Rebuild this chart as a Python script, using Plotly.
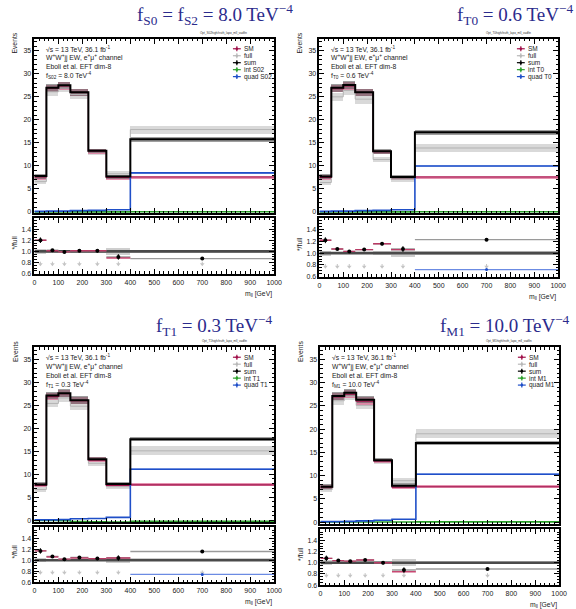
import plotly.graph_objects as go

W, H = 576, 609

# ---------------- data ----------------
bin_edges = [0, 50, 100, 150, 225, 300, 400, 1000]

# Panel 1: f_S0 = f_S2
sm_S02 = [7.6, 26.9, 27.4, 26.0, 13.2, 7.5, 7.6]
full_S02 = [6.6, 26.1, 26.9, 25.5, 13.1, 8.3, 17.9]
sum_S02 = [7.8, 27.0, 27.5, 26.0, 13.3, 7.7, 15.8]
int_S02 = [0.02, 0.03, 0.03, 0.03, 0.03, 0.03, 0.05]
quad_S02 = [0.15, 0.2, 0.2, 0.3, 0.35, 0.5, 8.5]
rsum_S02 = [1.20, 1.02, 0.99, 1.01, 1.01, 0.90, 0.87]
rsm_S02 = [1.20, 1.01, 0.99, 1.01, 1.01, 0.88, 0.42]
rquad_S02 = [0.02, 0.01, 0.01, 0.01, 0.03, 0.06, 0.47]

# Panel 2: f_T0
sm_T0 = [7.5, 26.8, 27.4, 26.0, 13.1, 7.5, 7.6]
full_T0 = [6.4, 25.0, 26.4, 24.5, 11.4, 7.1, 13.9]
sum_T0 = [7.7, 27.0, 27.6, 26.0, 13.2, 7.6, 17.3]
int_T0 = [0.02, 0.03, 0.03, 0.03, 0.03, 0.03, 0.05]
quad_T0 = [0.15, 0.2, 0.2, 0.3, 0.35, 0.5, 10.0]
rsum_T0 = [1.22, 1.07, 1.03, 1.06, 1.16, 1.07, 1.23]
rsm_T0 = [1.22, 1.07, 1.03, 1.06, 1.16, 1.06, 0.55]
rquad_T0 = [0.02, 0.01, 0.01, 0.01, 0.03, 0.07, 0.72]

# Panel 3: f_T1
sm_T1 = [7.6, 26.9, 27.5, 26.0, 13.1, 7.6, 7.7]
full_T1 = [6.7, 25.4, 26.6, 24.8, 12.4, 7.3, 15.1]
sum_T1 = [7.8, 27.1, 27.6, 26.1, 13.3, 7.9, 17.6]
int_T1 = [-0.05, -0.05, -0.1, -0.25, -0.3, -0.35, -0.2]
quad_T1 = [0.1, 0.1, 0.15, 0.35, 0.4, 0.65, 11.1]
rsum_T1 = [1.17, 1.07, 1.02, 1.05, 1.03, 1.04, 1.16]
rsm_T1 = [1.17, 1.06, 1.02, 1.04, 1.03, 1.04, 0.51]
rquad_T1 = [0.02, 0.01, 0.01, 0.01, 0.03, 0.09, 0.74]

# Panel 4: f_M1
sm_M1 = [7.5, 26.9, 27.5, 26.0, 13.1, 7.5, 7.6]
full_M1 = [7.0, 26.1, 27.1, 25.1, 13.0, 8.9, 19.0]
sum_M1 = [7.6, 27.1, 27.8, 26.3, 13.3, 7.8, 17.0]
int_M1 = [0.02, 0.03, 0.03, 0.03, 0.03, 0.03, 0.05]
quad_M1 = [0.1, 0.1, 0.15, 0.25, 0.4, 0.6, 10.3]
rsum_M1 = [1.08, 1.04, 1.03, 1.05, 1.00, 0.87, 0.89]
rsm_M1 = [1.08, 1.04, 1.03, 1.05, 1.00, 0.84, 0.40]
rquad_M1 = [0.02, 0.01, 0.01, 0.01, 0.03, 0.07, 0.54]

# uncertainties (shared shapes of the bands)
sm_err = [0.5, 0.8, 0.8, 0.8, 0.5, 0.4, 0.35]
full_err = [0.5, 0.9, 0.9, 0.9, 0.6, 0.6, 0.9]
sum_err = [0.5, 0.8, 0.8, 0.8, 0.5, 0.45, 0.45]
quad_err = [0.05, 0.05, 0.05, 0.05, 0.05, 0.08, 0.15]
rfull_err = [0.04, 0.02, 0.02, 0.02, 0.03, 0.06, 0.03]
rsum_err = [0.05, 0.02, 0.02, 0.02, 0.03, 0.05, 0.02]
offscale_marker = [0.77, 0.77, 0.77, 0.77, 0.77, 0.77, 0.77]

titles = ["f<sub>S0</sub> = f<sub>S2</sub> = 8.0 TeV<sup>\u22124</sup>",
          "f<sub>T0</sub> = 0.6 TeV<sup>\u22124</sup>",
          "f<sub>T1</sub> = 0.3 TeV<sup>\u22124</sup>",
          "f<sub>M1</sub> = 10.0 TeV<sup>\u22124</sup>"]
coef_labels = ["f<sub>S02</sub> = 8.0 TeV<sup>-4</sup>",
               "f<sub>T0</sub> = 0.6 TeV<sup>-4</sup>",
               "f<sub>T1</sub> = 0.3 TeV<sup>-4</sup>",
               "f<sub>M1</sub> = 10.0 TeV<sup>-4</sup>"]
op_names = ["S02", "T0", "T1", "M1"]
hist_names = ["Opt_S02high/truth_lapo_mll_vadfin", "Opt_T0high/truth_lapo_mll_vadfin",
              "Opt_T1high/truth_lapo_mll_vadfin", "Opt_M1high/truth_lapo_mll_vadfin"]
info_lines = ["\u221as = 13 TeV, 36.1 fb<sup>-1</sup>",
              "W<sup>+</sup>W<sup>+</sup>jj EW, e<sup>+</sup>\u03bc<sup>+</sup> channel",
              "Eboli et al. EFT dim-8"]

panels = [
    (sm_S02, full_S02, sum_S02, int_S02, quad_S02, rsum_S02, rsm_S02, rquad_S02),
    (sm_T0, full_T0, sum_T0, int_T0, quad_T0, rsum_T0, rsm_T0, rquad_T0),
    (sm_T1, full_T1, sum_T1, int_T1, quad_T1, rsum_T1, rsm_T1, rquad_T1),
    (sm_M1, full_M1, sum_M1, int_M1, quad_M1, rsum_M1, rsm_M1, rquad_M1),
]

# ---------------- layout geometry (pixels) ----------------
geo = [
    dict(x0=33, x1=277, mt=39, mb=214, rt=219, rb=275, ylo=-0.2, tx=298, ty=15),
    dict(x0=323, x1=566, mt=39, mb=214, rt=219, rb=278, ylo=-0.2, tx=583, ty=15),
    dict(x0=33, x1=277, mt=349, mb=525, rt=530, rb=585, ylo=-0.45, tx=277, ty=327),
    dict(x0=324, x1=567, mt=349, mb=527, rt=532, rb=588, ylo=-0.5, tx=580, ty=327),
]

def px(x):
    return x / W

def py(y):
    return 1 - y / H

C_SM = "#a0104a"
C_SM_BAND = "rgba(222,110,150,0.75)"
C_FULL = "#b4b4b4"
C_FULL_BAND = "rgba(185,185,185,0.55)"
C_SUM = "#000000"
C_SUM_BAND = "rgba(95,95,95,0.6)"
C_INT = "#2ca02c"
C_QUAD = "#1f4fc8"
FONT = "Liberation Sans, Arial, sans-serif"

centers = [(a + b) / 2 for a, b in zip(bin_edges[:-1], bin_edges[1:])]
widths = [b - a for a, b in zip(bin_edges[:-1], bin_edges[1:])]
halfw = [w / 2 for w in widths]

def step(v):
    return list(v) + [v[-1]]

fig = go.Figure()
annotations = []
shapes = []
layout = {}

for i, (sm, full, sm_sum, intf, quad, rsum, rsm, rquad) in enumerate(panels):
    g = geo[i]
    nm, nr = 2 * i + 1, 2 * i + 2
    xm = "x" if nm == 1 else f"x{nm}"
    ym = "y" if nm == 1 else f"y{nm}"
    xr, yr = f"x{nr}", f"y{nr}"

    def band(vals, errs, color, xa, ya):
        fig.add_trace(go.Bar(x=centers, width=widths,
                             base=[v - e for v, e in zip(vals, errs)],
                             y=[2 * e for e in errs],
                             marker=dict(color=color, line=dict(width=0)),
                             xaxis=xa, yaxis=ya, showlegend=False, hoverinfo="skip"))

    def hist(vals, color, width, xa, ya):
        fig.add_trace(go.Scatter(x=bin_edges, y=step(vals), mode="lines",
                                 line=dict(color=color, width=width, shape="hv"),
                                 xaxis=xa, yaxis=ya, showlegend=False))

    # ---- main panel ----
    band(full, full_err, C_FULL_BAND, xm, ym)
    band(sm, sm_err, C_SM_BAND, xm, ym)
    band(sm_sum, sum_err, C_SUM_BAND, xm, ym)
    band(quad, quad_err, "rgba(60,110,230,0.35)", xm, ym)
    hist(full, C_FULL, 1, xm, ym)
    hist(sm, C_SM, 1.2, xm, ym)
    hist(intf, C_INT, 1.6, xm, ym)
    hist(quad, C_QUAD, 1.6, xm, ym)
    hist(sm_sum, C_SUM, 2, xm, ym)

    # ---- ratio panel ----
    fig.add_trace(go.Bar(x=centers, width=widths,
                         base=[1 - e for e in rfull_err], y=[2 * e for e in rfull_err],
                         marker=dict(color="rgba(190,190,190,0.75)", line=dict(width=0)),
                         xaxis=xr, yaxis=yr, showlegend=False))
    fig.add_trace(go.Scatter(x=[bin_edges[0], bin_edges[-1]], y=[1, 1], mode="lines",
                             line=dict(color="#4a4a4a", width=2.6),
                             xaxis=xr, yaxis=yr, showlegend=False))
    # off-scale markers
    fig.add_trace(go.Scatter(x=centers, y=offscale_marker, mode="markers",
                             marker=dict(symbol="triangle-down", size=4, color="#c4c4c4"),
                             error_y=dict(type="data", array=[0.045] * 7, arrayminus=[0] * 7,
                                          color="#c4c4c4", thickness=1, width=0),
                             xaxis=xr, yaxis=yr, showlegend=False, cliponaxis=True))
    # sum/full horizontal segments (gray)
    fig.add_trace(go.Scatter(x=centers, y=rsum, mode="markers",
                             marker=dict(size=1, color="#9a9a9a"),
                             error_x=dict(type="data", array=halfw, color="#9a9a9a",
                                          thickness=1.4, width=0),
                             xaxis=xr, yaxis=yr, showlegend=False, cliponaxis=True))
    # SM/full (red segments)
    fig.add_trace(go.Scatter(x=centers, y=rsm, mode="markers",
                             marker=dict(size=1, color=C_SM),
                             error_x=dict(type="data", array=halfw, color="rgba(190,40,90,0.85)",
                                          thickness=1.4, width=0),
                             xaxis=xr, yaxis=yr, showlegend=False, cliponaxis=True))
    # quad/full (blue)
    fig.add_trace(go.Scatter(x=centers, y=rquad, mode="markers",
                             marker=dict(size=3, color=C_QUAD),
                             error_x=dict(type="data", array=halfw, color="rgba(70,110,220,0.8)",
                                          thickness=1.2, width=0),
                             xaxis=xr, yaxis=yr, showlegend=False, cliponaxis=True))
    # sum/full points
    fig.add_trace(go.Scatter(x=centers, y=rsum, mode="markers",
                             marker=dict(size=4, color="#000000"),
                             error_y=dict(type="data", array=rsum_err, color="#000000",
                                          thickness=1, width=0),
                             xaxis=xr, yaxis=yr, showlegend=False, cliponaxis=True))

    # ---- axes ----
    common = dict(showline=True, linecolor="black", linewidth=1.5, mirror="allticks",
                  ticks="inside", tickcolor="black", zeroline=False, showgrid=False,
                  tickfont=dict(family=FONT, size=7, color="#222"))
    xdom = [px(g["x0"]), px(g["x1"])]
    layout["xaxis" if nm == 1 else f"xaxis{nm}"] = dict(
        common, domain=xdom, anchor=ym, range=[0, 1000], dtick=100, ticklen=5,
        showticklabels=False, minor=dict(dtick=20, ticklen=2.5, ticks="inside", tickcolor="black"))
    layout["yaxis" if nm == 1 else f"yaxis{nm}"] = dict(
        common, domain=[py(g["mb"]), py(g["mt"])], anchor=xm, range=[g["ylo"], 37.6],
        dtick=5, ticklen=5, minor=dict(dtick=1, ticklen=2.5, ticks="inside", tickcolor="black"))
    layout[f"xaxis{nr}"] = dict(
        common, domain=xdom, anchor=yr, range=[0, 1000], dtick=100, ticklen=5,
        ticklabelstandoff=1,
        minor=dict(dtick=20, ticklen=2.5, ticks="inside", tickcolor="black"))
    layout[f"yaxis{nr}"] = dict(
        common, domain=[py(g["rb"]), py(g["rt"])], anchor=xr, range=[0.6, 1.6],
        tickvals=[0.6, 0.8, 1.0, 1.2, 1.4], ticktext=["0.6", "0.8", "1.0", "1.2", "1.4"],
        ticklen=5, minor=dict(dtick=0.05, ticklen=2.5, ticks="inside", tickcolor="black"))

    # ---- texts ----
    annotations.append(dict(x=px(g["tx"]), y=py(g["ty"]), xref="paper", yref="paper",
                            text=titles[i], showarrow=False, xanchor="right", yanchor="middle",
                            font=dict(family="Liberation Serif, Times New Roman, serif",
                                      size=19, color="#2b2b8c")))
    annotations.append(dict(x=px(g["x1"] - 26), y=py(g["mt"] - 6), xref="paper", yref="paper",
                            text=hist_names[i], showarrow=False, xanchor="right",
                            yanchor="middle", font=dict(family=FONT, size=3, color="#333")))
    for k, line in enumerate(info_lines + [coef_labels[i]]):
        annotations.append(dict(x=px(g["x0"] + 10), y=py(g["mt"] + 10 + 9 * k),
                                xref="paper", yref="paper", text=line, showarrow=False,
                                xanchor="left", yanchor="middle",
                                font=dict(family=FONT, size=6.8, color="#222")))
    leg = [("SM", C_SM), ("full", "#b8b8b8"), ("sum", "#000"),
           ("int " + op_names[i], C_INT), ("quad " + op_names[i], C_QUAD)]
    for k, (lab, col) in enumerate(leg):
        yc = g["mt"] + 10 + 7 * k
        xc = g["x1"] - 38
        shapes.append(dict(type="line", xref="paper", yref="paper",
                           x0=px(xc - 4), x1=px(xc + 4), y0=py(yc), y1=py(yc),
                           line=dict(color=col, width=1.2)))
        shapes.append(dict(type="line", xref="paper", yref="paper",
                           x0=px(xc), x1=px(xc), y0=py(yc - 2.5), y1=py(yc + 2.5),
                           line=dict(color=col, width=1.2)))
        shapes.append(dict(type="circle", xref="paper", yref="paper",
                           x0=px(xc - 1.3), x1=px(xc + 1.3), y0=py(yc - 1.3), y1=py(yc + 1.3),
                           fillcolor=col, line=dict(width=0)))
        annotations.append(dict(x=px(g["x1"] - 33), y=py(yc), xref="paper", yref="paper",
                                text=lab, showarrow=False, xanchor="left", yanchor="middle",
                                font=dict(family=FONT, size=6.5, color="#222")))
    annotations.append(dict(x=px(g["x0"] - 20), y=py(g["mt"] + 4), xref="paper", yref="paper",
                            text="Events", textangle=-90, showarrow=False,
                            xanchor="center", yanchor="middle",
                            font=dict(family=FONT, size=6.8, color="#222")))
    annotations.append(dict(x=px(g["x0"] - 20), y=py((g["rt"] + g["rb"]) / 2 - 3),
                            xref="paper", yref="paper", text="*/full", textangle=-90,
                            showarrow=False, xanchor="center", yanchor="middle",
                            font=dict(family=FONT, size=6.8, color="#222")))
    annotations.append(dict(x=px(g["x1"]), y=py(g["rb"] + 20), xref="paper", yref="paper",
                            text="m<sub>ll</sub> [GeV]", showarrow=False,
                            xanchor="right", yanchor="middle",
                            font=dict(family=FONT, size=6.8, color="#222")))

fig.update_layout(
    width=W, height=H, margin=dict(l=0, r=0, t=0, b=0),
    paper_bgcolor="white", plot_bgcolor="white",
    barmode="overlay", bargap=0, showlegend=False,
    annotations=annotations, shapes=shapes, **layout)

fig.write_html("out.html")
